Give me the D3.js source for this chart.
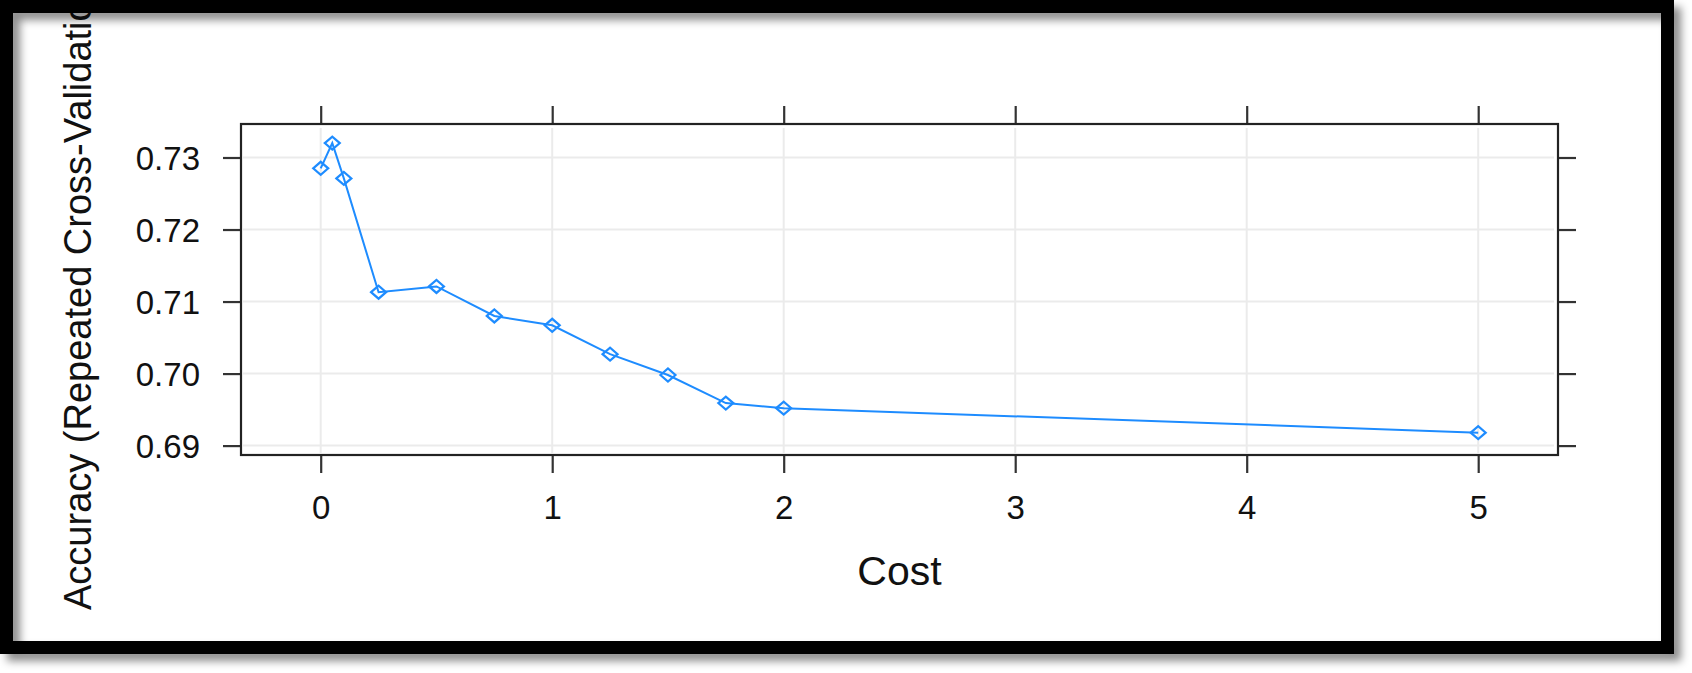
<!DOCTYPE html>
<html>
<head>
<meta charset="utf-8">
<script src="https://cdn.jsdelivr.net/npm/d3@7"></script>
<style>
  html, body { margin: 0; padding: 0; background: #ffffff; }
  svg { display: block; }
  text { font-family: "Liberation Sans", Arial, sans-serif; }
</style>
</head>
<body>
<svg id="chart" width="1692" height="673"></svg>
<script>
// ---- data ----
const costs    = [0, 0.05, 0.1, 0.25, 0.5, 0.75, 1, 1.25, 1.5, 1.75, 2, 5];
const accuracy = [0.7285, 0.7320, 0.7271, 0.7113, 0.7121, 0.7080, 0.7067, 0.7027, 0.6998, 0.6959, 0.6952, 0.6918];
const xTicks   = [0, 1, 2, 3, 4, 5];
const yTicks   = [0.69, 0.70, 0.71, 0.72, 0.73];
const xTitle   = "Cost";
const yTitle   = "Accuracy (Repeated Cross-Validation)";

// ---- layout ----
const W = 1692, H = 673;
const panel = { left: 241, right: 1558, top: 124, bottom: 455 };
const svg = d3.select("#chart");

const defs = svg.append("defs");
const f = defs.append("filter").attr("id", "shadow")
  .attr("x", "-5%").attr("y", "-5%").attr("width", "115%").attr("height", "120%");
f.append("feDropShadow").attr("dx", 7).attr("dy", 7).attr("stdDeviation", 4)
  .attr("flood-color", "#000").attr("flood-opacity", 0.45);

svg.append("rect").attr("width", W).attr("height", H).attr("fill", "#fff");

const x = d3.scaleLinear().domain([0, 5]).range([320.7, 1478.2]);
const y = d3.scaleLinear().domain([0.69, 0.73]).range([445.6, 157.5]);

// grid
const grid = svg.append("g");
grid.selectAll("line.h").data(yTicks).join("line")
  .attr("x1", panel.left + 2).attr("x2", panel.right - 4)
  .attr("y1", d => y(d)).attr("y2", d => y(d))
  .attr("stroke", "#ebebeb").attr("stroke-width", 2);
grid.selectAll("line.v").data(xTicks).join("line")
  .attr("y1", panel.top + 4).attr("y2", panel.bottom - 2)
  .attr("x1", d => x(d)).attr("x2", d => x(d))
  .attr("stroke", "#ebebeb").attr("stroke-width", 2);

// line + points
const pts = costs.map((c, i) => [c, accuracy[i]]);
svg.append("path").datum(pts)
  .attr("d", d3.line().x(d => x(d[0])).y(d => y(d[1])))
  .attr("fill", "none").attr("stroke", "#1e8cff").attr("stroke-width", 2);

const dw = 7.5, dh = 6.5;
svg.append("g").selectAll("path").data(pts).join("path")
  .attr("d", d => {
    const cx = x(d[0]), cy = y(d[1]);
    return `M${cx - dw},${cy}L${cx},${cy - dh}L${cx + dw},${cy}L${cx},${cy + dh}Z`;
  })
  .attr("fill", "none").attr("stroke", "#1e8cff").attr("stroke-width", 2.2);

// axes (ticks on all four sides, labels bottom/left)
const tickLen = 18;
const axB = d3.axisBottom(x).tickValues(xTicks).tickSize(tickLen).tickPadding(23).tickFormat(d3.format("d"));
const axT = d3.axisTop(x).tickValues(xTicks).tickSize(tickLen).tickFormat("");
const axL = d3.axisLeft(y).tickValues(yTicks).tickSize(tickLen).tickPadding(23).tickFormat(d3.format(".2f"));
const axR = d3.axisRight(y).tickValues(yTicks).tickSize(tickLen).tickFormat("");

function style(g) {
  g.select(".domain").remove();
  g.selectAll(".tick line").attr("stroke", "#333").attr("stroke-width", 2.2);
  g.selectAll(".tick text").attr("fill", "#111").attr("font-size", 33);
}
svg.append("g").attr("transform", `translate(0,${panel.bottom})`).call(axB).call(style)
  .selectAll(".tick text").attr("dy", "0.71em");
svg.append("g").attr("transform", `translate(0,${panel.top})`).call(axT).call(style);
svg.append("g").attr("transform", `translate(${panel.left},0)`).call(axL).call(style)
  .selectAll(".tick text").attr("dy", "0.36em");
svg.append("g").attr("transform", `translate(${panel.right},0)`).call(axR).call(style);

// panel box
svg.append("rect")
  .attr("x", panel.left).attr("y", panel.top)
  .attr("width", panel.right - panel.left).attr("height", panel.bottom - panel.top)
  .attr("fill", "none").attr("stroke", "#222").attr("stroke-width", 2.2);

// titles
svg.append("text").attr("x", (panel.left + panel.right) / 2).attr("y", 585)
  .attr("text-anchor", "middle").attr("font-size", 41).attr("fill", "#111").text(xTitle);
svg.append("text").attr("transform", "translate(91,610) rotate(-90)")
  .attr("text-anchor", "start").attr("font-size", 38).attr("fill", "#111").text(yTitle);

// outer frame with drop shadow
svg.append("rect")
  .attr("x", 6.5).attr("y", 6.5).attr("width", 1661).attr("height", 641)
  .attr("fill", "none").attr("stroke", "#000").attr("stroke-width", 13)
  .attr("filter", "url(#shadow)");
</script>
</body>
</html>
